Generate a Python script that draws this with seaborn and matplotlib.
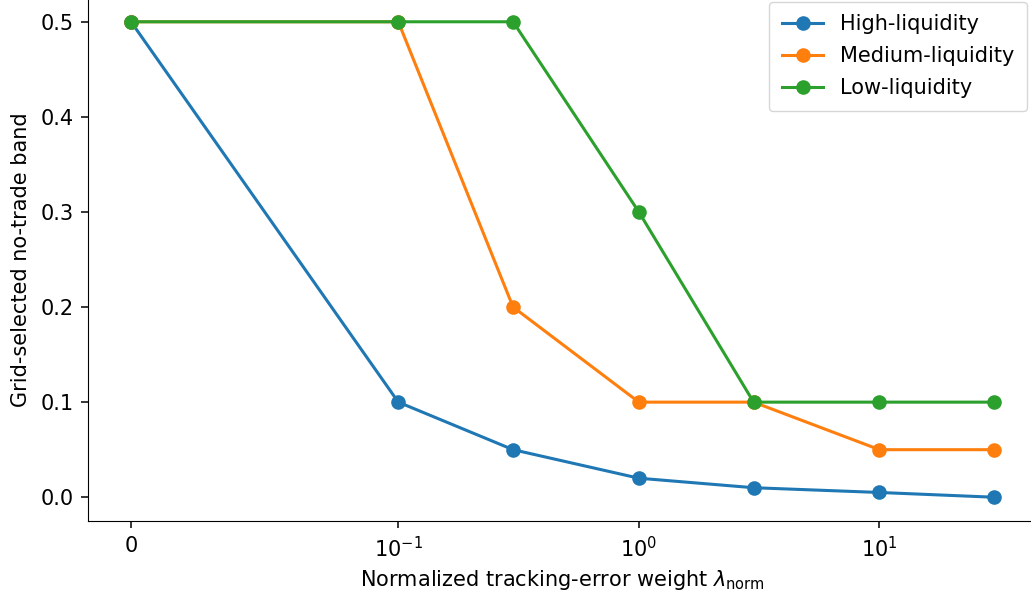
import numpy as np
import pandas as pd
import matplotlib
matplotlib.use("Agg")
import matplotlib.pyplot as plt
import seaborn as sns
from matplotlib.ticker import NullLocator

lam = [0, 0.1, 0.3, 1, 3, 10, 30]
high = [0.5, 0.1, 0.05, 0.02, 0.01, 0.005, 0.0]
medium = [0.5, 0.5, 0.2, 0.1, 0.1, 0.05, 0.05]
low = [0.5, 0.5, 0.5, 0.3, 0.1, 0.1, 0.1]
series_names = ["High-liquidity", "Medium-liquidity", "Low-liquidity"]

df = pd.concat([
    pd.DataFrame({"lam": lam, "band": vals, "group": name})
    for name, vals in zip(series_names, [high, medium, low])
])

plt.rcParams["font.family"] = ["DejaVu Sans"]
plt.rcParams["font.size"] = 15

W, H = 1031, 599
fig = plt.figure(figsize=(W / 100, H / 100), dpi=100)
ax = fig.add_axes([88 / W, 78 / H, 949 / W, 523 / H])

sns.lineplot(data=df, x="lam", y="band", hue="group", hue_order=series_names,
             palette=["#1f77b4", "#ff7f0e", "#2ca02c"], marker="o",
             markersize=10.5, markeredgewidth=0, linewidth=2.2, ax=ax, sort=False)

ax.set_xscale("symlog", linthresh=0.1)
ax.set_xlim(-0.0161, 45.2)
ax.set_ylim(-0.025, 0.525)
ax.xaxis.set_minor_locator(NullLocator())
ax.set_yticks([0.0, 0.1, 0.2, 0.3, 0.4, 0.5])
ax.tick_params(labelsize=15, length=5, width=1.1, pad=5.5)
ax.set_xlabel(r"Normalized tracking-error weight $\lambda_{\mathrm{norm}}$", fontsize=15, labelpad=5.5)
ax.set_ylabel("Grid-selected no-trade band", fontsize=15, labelpad=7)
sns.despine(ax=ax)
ax.legend(loc="upper right", fontsize=15, title=None,
          bbox_to_anchor=(1027 / W, 1 - 2 / H), bbox_transform=fig.transFigure,
          borderaxespad=0, labelspacing=0.57, borderpad=0.6)

fig.savefig("out.png", dpi=100)
